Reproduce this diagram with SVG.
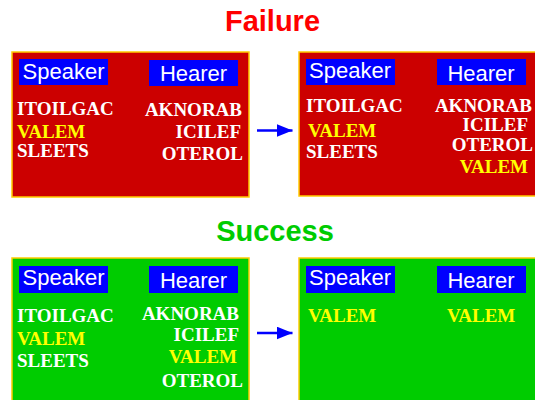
<svg xmlns="http://www.w3.org/2000/svg" width="535" height="400" viewBox="0 0 535 400">
<defs>
<style>
.red{fill:#CC0000;stroke:#FFCC00;stroke-width:1.5}
.green{fill:#00CC00;stroke:#FFCC00;stroke-width:1.5}
.lab{fill:#0000FF}
.labt{font-family:"Liberation Sans",Arial,sans-serif;font-size:22px;fill:#FFFFFF;text-anchor:middle}
.w{font-family:"Liberation Serif","Times New Roman",serif;font-size:19px;font-weight:bold;fill:#FFFFFF}
.y{font-family:"Liberation Serif","Times New Roman",serif;font-size:19px;font-weight:bold;fill:#FFFF00}
.e{text-anchor:end}
.title{font-family:"Liberation Sans",Arial,sans-serif;font-size:29px;font-weight:bold;text-anchor:middle}
.conn{stroke:#0000FF;stroke-width:2.5;fill:none}
</style>
<marker id="ah" markerWidth="16" markerHeight="13" refX="16" refY="6.5" orient="auto" markerUnits="userSpaceOnUse">
<path d="M0,0 L16,6.5 L0,13 Z" fill="#0000FF"/>
</marker>
</defs>
<rect width="535" height="400" fill="#FFFFFF"/>
<text class="title" x="272.5" y="30.5" fill="#FF0000">Failure</text>
<text class="title" x="275" y="240.5" fill="#00CC00">Success</text>

<g id="failure-before">
<rect class="red" x="12" y="52" width="237" height="145"/>
<rect class="lab" x="19" y="59" width="89" height="26"/>
<text class="labt" x="63.5" y="78.5">Speaker</text>
<rect class="lab" x="149" y="60" width="89" height="26"/>
<text class="labt" x="193.5" y="80.5">Hearer</text>
<text class="w" x="17" y="115">ITOILGAC</text>
<text class="y" x="17" y="137.5">VALEM</text>
<text class="w" x="17" y="156.5">SLEETS</text>
<text class="w e" x="242" y="116">AKNORAB</text>
<text class="w e" x="241" y="138">ICILEF</text>
<text class="w e" x="243" y="160">OTEROL</text>
</g>

<g id="failure-after">
<rect class="red" x="299" y="52" width="245" height="144"/>
<rect class="lab" x="306" y="59" width="89" height="26"/>
<text class="labt" x="350" y="78">Speaker</text>
<rect class="lab" x="437" y="59" width="89" height="26"/>
<text class="labt" x="481" y="80.5">Hearer</text>
<text class="w" x="306" y="112">ITOILGAC</text>
<text class="y" x="308" y="137">VALEM</text>
<text class="w" x="306" y="158">SLEETS</text>
<text class="w e" x="532" y="112">AKNORAB</text>
<text class="w e" x="528" y="131">ICILEF</text>
<text class="w e" x="533" y="151">OTEROL</text>
<text class="y e" x="528" y="173">VALEM</text>
</g>

<g id="success-before">
<rect class="green" x="12" y="258" width="237" height="150"/>
<rect class="lab" x="19" y="266" width="89" height="27"/>
<text class="labt" x="63.5" y="285">Speaker</text>
<rect class="lab" x="149" y="266" width="89" height="27"/>
<text class="labt" x="193.5" y="287.5">Hearer</text>
<text class="w" x="17" y="322">ITOILGAC</text>
<text class="y" x="17" y="345">VALEM</text>
<text class="w" x="17" y="367">SLEETS</text>
<text class="w e" x="239" y="320">AKNORAB</text>
<text class="w e" x="239" y="341">ICILEF</text>
<text class="y e" x="237" y="363">VALEM</text>
<text class="w e" x="243" y="387">OTEROL</text>
</g>

<g id="success-after">
<rect class="green" x="299" y="258" width="245" height="150"/>
<rect class="lab" x="306" y="266" width="89" height="27"/>
<text class="labt" x="350" y="285">Speaker</text>
<rect class="lab" x="437" y="266" width="89" height="27"/>
<text class="labt" x="481" y="287.5">Hearer</text>
<text class="y" x="308" y="322">VALEM</text>
<text class="y" x="447" y="322">VALEM</text>
</g>

<g id="connectors">
<line class="conn" x1="257" y1="130.5" x2="292.5" y2="130.5" marker-end="url(#ah)"/>
<line class="conn" x1="257" y1="333" x2="292.5" y2="333" marker-end="url(#ah)"/>
</g>
</svg>
